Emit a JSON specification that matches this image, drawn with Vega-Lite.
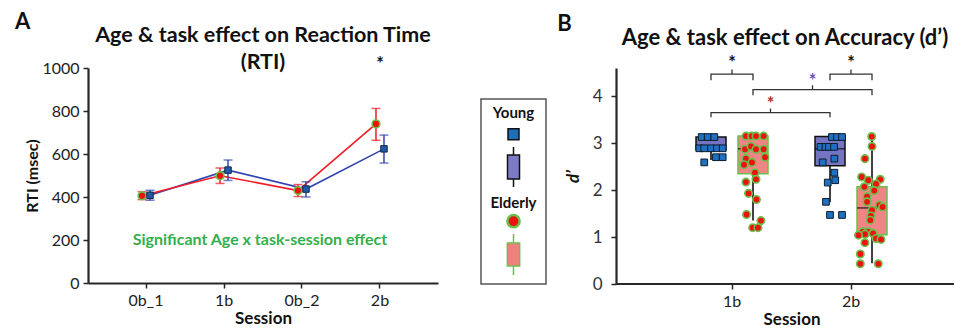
{
  "$schema": "https://vega.github.io/schema/vega-lite/v6.json",
  "padding": {"left": 14, "top": 11, "right": 0, "bottom": 0},
  "background": "white",
  "config": {
    "font": "Lato",
    "view": {"stroke": null},
    "axis": {"grid": false, "domainColor": "#262626", "domainWidth": 2.2, "tickColor": "#262626", "tickWidth": 1.5, "tickSize": 5, "labelFont": "Lato", "labelFontSize": 16, "labelColor": "#222", "titleFont": "Lato", "titleFontSize": 16, "titleFontWeight": "bold", "titleColor": "#111"},
    "title": {"font": "Lato", "fontWeight": "bold", "color": "#111"}
  },
  "datasets": {
    "boxes": [
      {"session": "1b", "group": "Young", "lower": 2.64, "q1": 2.86, "median": 2.93, "q3": 3.13, "upper": 3.13},
      {"session": "1b", "group": "Elderly", "lower": 1.35, "q1": 2.35, "median": 2.88, "q3": 3.15, "upper": 3.15},
      {"session": "2b", "group": "Young", "lower": 1.74, "q1": 2.52, "median": 2.88, "q3": 3.14, "upper": 3.14},
      {"session": "2b", "group": "Elderly", "lower": 0.44, "q1": 1.05, "median": 1.62, "q3": 2.07, "upper": 3.13}
    ]
  },
  "spacing": 10,
  "hconcat": [
    {
      "spacing": 42,
      "hconcat": [
        {
          "title": {"text": "A", "anchor": "start", "fontSize": 22, "offset": -9, "dx": -10},
          "vconcat": [
            {
              "width": 350,
              "height": 215,
              "title": {"text": ["Age & task effect on Reaction Time", "(RTI)"], "fontSize": 21.5, "lineHeight": 27, "anchor": "middle", "frame": "group", "offset": -18},
              "data": {"values": [
                {"session": "0b_1", "group": "Young", "rt": 408, "lo": 385, "hi": 431},
                {"session": "0b_1", "group": "Elderly", "rt": 406, "lo": 388, "hi": 425},
                {"session": "1b", "group": "Young", "rt": 525, "lo": 477, "hi": 572},
                {"session": "1b", "group": "Elderly", "rt": 499, "lo": 463, "hi": 535},
                {"session": "0b_2", "group": "Young", "rt": 437, "lo": 400, "hi": 471},
                {"session": "0b_2", "group": "Elderly", "rt": 430, "lo": 402, "hi": 458},
                {"session": "2b", "group": "Young", "rt": 624, "lo": 558, "hi": 688},
                {"session": "2b", "group": "Elderly", "rt": 740, "lo": 664, "hi": 812}
              ]},
              "layer": [
                {
                  "mark": {"type": "line", "strokeWidth": 1.6},
                  "encoding": {
                    "x": {"field": "session", "type": "nominal", "sort": ["0b_1", "1b", "0b_2", "2b"], "scale": {"type": "band", "domain": ["0b_1", "1b", "0b_2", "2b"], "paddingInner": 0, "paddingOuter": 0.244}, "axis": {"title": "Session", "labelAngle": 0, "labelPadding": 4, "titlePadding": 2, "titleFontSize": 17}},
                    "xOffset": {"field": "group", "type": "nominal", "scale": {"type": "point", "domain": ["Elderly", "Young"], "range": [35, 43], "padding": 0}},
                    "y": {"field": "rt", "type": "quantitative", "scale": {"domain": [0, 1000], "nice": false}, "axis": {"title": "RTI (msec)", "format": "d", "values": [0, 200, 400, 600, 800, 1000], "labelPadding": 4, "titlePadding": 1}},
                    "color": {"field": "group", "type": "nominal", "scale": {"domain": ["Young", "Elderly"], "range": ["#3346b0", "#ee1c25"]}, "legend": null}
                  }
                },
                {
                  "mark": {"type": "rule", "strokeWidth": 1.5},
                  "encoding": {
                    "x": {"field": "session", "type": "nominal"},
                    "xOffset": {"field": "group", "type": "nominal"},
                    "y": {"field": "lo", "type": "quantitative"}, "y2": {"field": "hi"},
                    "color": {"field": "group", "type": "nominal", "legend": null}
                  }
                },
                {
                  "mark": {"type": "tick", "orient": "horizontal", "size": 9, "thickness": 1.5},
                  "encoding": {"x": {"field": "session", "type": "nominal"}, "xOffset": {"field": "group", "type": "nominal"}, "y": {"field": "lo", "type": "quantitative"}, "color": {"field": "group", "type": "nominal", "legend": null}}
                },
                {
                  "mark": {"type": "tick", "orient": "horizontal", "size": 9, "thickness": 1.5},
                  "encoding": {"x": {"field": "session", "type": "nominal"}, "xOffset": {"field": "group", "type": "nominal"}, "y": {"field": "hi", "type": "quantitative"}, "color": {"field": "group", "type": "nominal", "legend": null}}
                },
                {
                  "transform": [{"filter": "datum.group == 'Elderly'"}],
                  "mark": {"type": "point", "shape": "circle", "filled": true, "size": 60, "fill": "#ee1111", "stroke": "#6cbf4a", "strokeWidth": 1.6, "opacity": 1},
                  "encoding": {"x": {"field": "session", "type": "nominal"}, "xOffset": {"field": "group", "type": "nominal"}, "y": {"field": "rt", "type": "quantitative"}}
                },
                {
                  "transform": [{"filter": "datum.group == 'Young'"}],
                  "mark": {"type": "point", "shape": "square", "filled": true, "size": 42, "fill": "#1f5aa8", "stroke": "#122848", "strokeWidth": 1, "opacity": 1},
                  "encoding": {"x": {"field": "session", "type": "nominal"}, "xOffset": {"field": "group", "type": "nominal"}, "y": {"field": "rt", "type": "quantitative"}}
                },
                {
                  "data": {"values": [{"label": "*"}]},
                  "mark": {"type": "text", "fontSize": 18, "fontWeight": "bold", "color": "#111", "baseline": "middle"},
                  "encoding": {"x": {"datum": "2b", "type": "nominal"}, "y": {"datum": 1015, "type": "quantitative"}, "text": {"field": "label"}}
                },
                {
                  "data": {"values": [{"label": "Significant Age x task-session effect"}]},
                  "mark": {"type": "text", "fontSize": 16, "fontWeight": "bold", "color": "#33b04a", "baseline": "middle", "dx": -3},
                  "encoding": {"y": {"datum": 200, "type": "quantitative"}, "text": {"field": "label"}}
                }
              ]
            }
          ]
        },
        {
          "spacing": 0,
          "vconcat": [
            {
              "width": 65,
              "height": 30,
              "data": {"values": [{}]},
              "mark": {"type": "point", "opacity": 0}
            },
            {
              "width": 65,
              "height": 185,
              "view": {"stroke": "#555", "strokeWidth": 1.5},
              "encoding": {
                "y": {"field": "slot", "type": "nominal", "sort": null, "scale": {"type": "point", "domain": ["Young", "ysym", "ybox", "Elderly", "esym", "ebox"], "range": [14, 155.5], "padding": 0}, "axis": null}
              },
              "layer": [
                {"data": {"values": [{"slot": "Young", "label": "Young"}]}, "mark": {"type": "text", "fontSize": 15, "fontWeight": "bold", "color": "#111", "baseline": "middle"}, "encoding": {"text": {"field": "label"}}},
                {"data": {"values": [{"slot": "Elderly", "label": "Elderly"}]}, "mark": {"type": "text", "fontSize": 15, "fontWeight": "bold", "color": "#111", "baseline": "middle", "dy": 5}, "encoding": {"text": {"field": "label"}}},
                {"data": {"values": [{"slot": "ysym"}]}, "mark": {"type": "point", "shape": "square", "filled": true, "size": 121, "fill": "#1f6fb8", "stroke": "#111", "strokeWidth": 1.5, "opacity": 1, "yOffset": -7}},
                {"data": {"values": [{"slot": "ybox"}]}, "mark": {"type": "point", "shape": "M-0.3,-0.6H0.3V0.6H-0.3ZM0,-0.6V-1M0,0.6V1", "filled": true, "size": 1600, "fill": "#7b7bc8", "stroke": "#111", "strokeWidth": 1.5, "opacity": 1, "yOffset": -2.6}},
                {"data": {"values": [{"slot": "esym"}]}, "mark": {"type": "point", "shape": "circle", "filled": true, "size": 150, "fill": "#ee1111", "stroke": "#6cbf4a", "strokeWidth": 2.5, "opacity": 1, "yOffset": -5}},
                {"data": {"values": [{"slot": "ebox"}]}, "mark": {"type": "point", "shape": "M-0.3,-0.56H0.3V0.56H-0.3ZM0,-0.56V-1M0,0.56V1", "filled": true, "size": 1681, "fill": "#f08080", "stroke": "#6cbf4a", "strokeWidth": 1.5, "opacity": 1}}
              ]
            }
          ]
        }
      ]
    },
    {
      "title": {"text": "B", "anchor": "start", "fontSize": 22, "offset": -9, "dx": -7},
      "vconcat": [
        {
          "width": 338,
          "height": 216,
          "title": {"text": "Age & task effect on Accuracy (d’)", "fontSize": 22, "anchor": "middle", "frame": "group", "offset": 5},
          "resolve": {"scale": {"xOffset": "independent"}},
          "layer": [
            {
              "data": {"values": [{}]},
              "mark": {"type": "rule", "color": "#262626", "strokeWidth": 2.2},
              "encoding": {"y": {"datum": 0, "type": "quantitative"}}
            },
            {
              "data": {"name": "boxes"},
              "mark": {"type": "rule", "color": "#111", "strokeWidth": 1.6},
              "encoding": {
                "x": {"field": "session", "type": "nominal", "scale": {"type": "band", "domain": ["1b", "1b–2b", "2b"], "paddingInner": 0, "paddingOuter": 0, "range": [86.25, 264.75]}, "axis": {"title": "Session", "values": ["1b", "2b"], "domain": false, "labelAngle": 0, "labelPadding": 4, "titlePadding": 2, "titleFontSize": 17}},
                "xOffset": {"field": "group", "type": "nominal", "scale": {"type": "point", "domain": ["Young", "between", "Elderly"], "range": [8.75, 50.75], "padding": 0}},
                "y": {"field": "lower", "type": "quantitative", "scale": {"domain": [0, 4.6], "nice": false}, "axis": {"title": "d’", "titleFontStyle": "italic", "titleFontSize": 17, "values": [0, 1, 2, 3, 4], "labelFontSize": 17, "labelColor": "#333", "labelPadding": 9, "titlePadding": 10}},
                "y2": {"field": "upper"}
              }
            },
            {
              "data": {"name": "boxes"},
              "transform": [{"filter": "datum.group == 'Young'"}],
              "mark": {"type": "bar", "width": 30, "fill": "#7474c0", "stroke": "#111", "strokeWidth": 1.5},
              "encoding": {
                "x": {"field": "session", "type": "nominal"},
                "xOffset": {"field": "group", "type": "nominal", "scale": {"type": "point", "domain": ["Young", "between", "Elderly"], "range": [8.75, 50.75], "padding": 0}},
                "y": {"field": "q1", "type": "quantitative"}, "y2": {"field": "q3"}
              }
            },
            {
              "data": {"name": "boxes"},
              "transform": [{"filter": "datum.group == 'Elderly'"}],
              "mark": {"type": "bar", "width": 30, "fill": "#f08585", "stroke": "#6cbf4a", "strokeWidth": 1.5},
              "encoding": {
                "x": {"field": "session", "type": "nominal"},
                "xOffset": {"field": "group", "type": "nominal", "scale": {"type": "point", "domain": ["Young", "between", "Elderly"], "range": [8.75, 50.75], "padding": 0}},
                "y": {"field": "q1", "type": "quantitative"}, "y2": {"field": "q3"}
              }
            },
            {
              "data": {"name": "boxes"},
              "mark": {"type": "tick", "orient": "horizontal", "size": 30, "thickness": 1.6, "color": "#111"},
              "encoding": {
                "x": {"field": "session", "type": "nominal"},
                "xOffset": {"field": "group", "type": "nominal", "scale": {"type": "point", "domain": ["Young", "between", "Elderly"], "range": [8.75, 50.75], "padding": 0}},
                "y": {"field": "median", "type": "quantitative"}
              }
            },
            {
              "data": {"values": [
                {"session": "1b", "group": "Young", "d": 3.13, "jitter": -0.62}, {"session": "1b", "group": "Young", "d": 3.13, "jitter": -0.22}, {"session": "1b", "group": "Young", "d": 3.13, "jitter": 0.22},
                {"session": "1b", "group": "Young", "d": 2.89, "jitter": -0.78}, {"session": "1b", "group": "Young", "d": 2.89, "jitter": -0.45}, {"session": "1b", "group": "Young", "d": 2.89, "jitter": 0}, {"session": "1b", "group": "Young", "d": 2.89, "jitter": 0.4}, {"session": "1b", "group": "Young", "d": 2.89, "jitter": 0.78},
                {"session": "1b", "group": "Young", "d": 2.7, "jitter": 0.33}, {"session": "1b", "group": "Young", "d": 2.7, "jitter": 0.78}, {"session": "1b", "group": "Young", "d": 2.59, "jitter": -0.45},
                {"session": "2b", "group": "Young", "d": 3.13, "jitter": 0.13}, {"session": "2b", "group": "Young", "d": 3.13, "jitter": 0.47}, {"session": "2b", "group": "Young", "d": 3.13, "jitter": 0.8},
                {"session": "2b", "group": "Young", "d": 2.92, "jitter": -0.63}, {"session": "2b", "group": "Young", "d": 2.92, "jitter": -0.3}, {"session": "2b", "group": "Young", "d": 2.92, "jitter": -0.07}, {"session": "2b", "group": "Young", "d": 2.92, "jitter": 0.27},
                {"session": "2b", "group": "Young", "d": 2.67, "jitter": 0.29}, {"session": "2b", "group": "Young", "d": 2.59, "jitter": -0.49}, {"session": "2b", "group": "Young", "d": 2.37, "jitter": 0.29},
                {"session": "2b", "group": "Young", "d": 2.16, "jitter": -0.15}, {"session": "2b", "group": "Young", "d": 2.21, "jitter": 0.35}, {"session": "2b", "group": "Young", "d": 1.75, "jitter": -0.27},
                {"session": "2b", "group": "Young", "d": 1.47, "jitter": 0}, {"session": "2b", "group": "Young", "d": 1.47, "jitter": 0.8}
              ]},
              "mark": {"type": "point", "shape": "square", "filled": true, "size": 45, "fill": "#1f70c0", "stroke": "#0d1b2a", "strokeWidth": 1, "opacity": 1},
              "encoding": {
                "x": {"field": "session", "type": "nominal"},
                "xOffset": {"field": "jitter", "type": "quantitative", "scale": {"domain": [-1, 1], "range": [-6.25, 23.75]}},
                "y": {"field": "d", "type": "quantitative"}
              }
            },
            {
              "data": {"values": [
                {"session": "1b", "group": "Elderly", "d": 3.15, "jitter": -0.47}, {"session": "1b", "group": "Elderly", "d": 3.15, "jitter": -0.09}, {"session": "1b", "group": "Elderly", "d": 3.15, "jitter": 0.2}, {"session": "1b", "group": "Elderly", "d": 3.15, "jitter": 0.71},
                {"session": "1b", "group": "Elderly", "d": 2.87, "jitter": -0.53}, {"session": "1b", "group": "Elderly", "d": 2.93, "jitter": -0.13}, {"session": "1b", "group": "Elderly", "d": 2.87, "jitter": 0.2}, {"session": "1b", "group": "Elderly", "d": 2.87, "jitter": 0.71},
                {"session": "1b", "group": "Elderly", "d": 2.7, "jitter": 0.8}, {"session": "1b", "group": "Elderly", "d": 2.67, "jitter": -0.47}, {"session": "1b", "group": "Elderly", "d": 2.54, "jitter": -0.6}, {"session": "1b", "group": "Elderly", "d": 2.59, "jitter": -0.07},
                {"session": "1b", "group": "Elderly", "d": 2.37, "jitter": 0.13}, {"session": "1b", "group": "Elderly", "d": 2.17, "jitter": -0.47}, {"session": "1b", "group": "Elderly", "d": 2.23, "jitter": 0.2},
                {"session": "1b", "group": "Elderly", "d": 1.93, "jitter": -0.3}, {"session": "1b", "group": "Elderly", "d": 1.8, "jitter": 0.23}, {"session": "1b", "group": "Elderly", "d": 1.48, "jitter": -0.43},
                {"session": "1b", "group": "Elderly", "d": 1.35, "jitter": 0.53}, {"session": "1b", "group": "Elderly", "d": 1.2, "jitter": -0.02}, {"session": "1b", "group": "Elderly", "d": 1.2, "jitter": 0.33},
                {"session": "2b", "group": "Elderly", "d": 3.14, "jitter": -0.02}, {"session": "2b", "group": "Elderly", "d": 2.93, "jitter": 0}, {"session": "2b", "group": "Elderly", "d": 2.67, "jitter": -0.47},
                {"session": "2b", "group": "Elderly", "d": 2.28, "jitter": -0.69}, {"session": "2b", "group": "Elderly", "d": 2.21, "jitter": -0.25}, {"session": "2b", "group": "Elderly", "d": 2.23, "jitter": 0.55}, {"session": "2b", "group": "Elderly", "d": 2.13, "jitter": 0.27},
                {"session": "2b", "group": "Elderly", "d": 2.07, "jitter": -0.51}, {"session": "2b", "group": "Elderly", "d": 1.99, "jitter": 0.15}, {"session": "2b", "group": "Elderly", "d": 1.86, "jitter": -0.33}, {"session": "2b", "group": "Elderly", "d": 1.75, "jitter": -0.33},
                {"session": "2b", "group": "Elderly", "d": 1.57, "jitter": 0}, {"session": "2b", "group": "Elderly", "d": 1.68, "jitter": 0.49}, {"session": "2b", "group": "Elderly", "d": 1.64, "jitter": 0.71},
                {"session": "2b", "group": "Elderly", "d": 1.45, "jitter": -0.07}, {"session": "2b", "group": "Elderly", "d": 1.36, "jitter": -0.11},
                {"session": "2b", "group": "Elderly", "d": 1.11, "jitter": -0.62}, {"session": "2b", "group": "Elderly", "d": 1.11, "jitter": -0.25}, {"session": "2b", "group": "Elderly", "d": 1.06, "jitter": -0.47}, {"session": "2b", "group": "Elderly", "d": 1.08, "jitter": 0.07}, {"session": "2b", "group": "Elderly", "d": 1.04, "jitter": -0.9},
                {"session": "2b", "group": "Elderly", "d": 0.97, "jitter": 0.27}, {"session": "2b", "group": "Elderly", "d": 0.95, "jitter": 0.6}, {"session": "2b", "group": "Elderly", "d": 0.88, "jitter": -0.47},
                {"session": "2b", "group": "Elderly", "d": 0.64, "jitter": -0.78}, {"session": "2b", "group": "Elderly", "d": 0.43, "jitter": -0.78}, {"session": "2b", "group": "Elderly", "d": 0.43, "jitter": 0.42}
              ]},
              "mark": {"type": "point", "shape": "circle", "filled": true, "size": 55, "fill": "#ee1111", "stroke": "#6cbf4a", "strokeWidth": 1.6, "opacity": 1},
              "encoding": {
                "x": {"field": "session", "type": "nominal"},
                "xOffset": {"field": "jitter", "type": "quantitative", "scale": {"domain": [-1, 1], "range": [35.75, 65.75]}},
                "y": {"field": "d", "type": "quantitative"}
              }
            },
            {
              "data": {"values": [
                {"bracket": "b1", "k": 1, "session": "1b", "group": "Young", "d": 4.34}, {"bracket": "b1", "k": 2, "session": "1b", "group": "Young", "d": 4.47}, {"bracket": "b1", "k": 3, "session": "1b", "group": "between", "d": 4.47}, {"bracket": "b1", "k": 4, "session": "1b", "group": "between", "d": 4.57}, {"bracket": "b1", "k": 5, "session": "1b", "group": "between", "d": 4.47}, {"bracket": "b1", "k": 6, "session": "1b", "group": "Elderly", "d": 4.47}, {"bracket": "b1", "k": 7, "session": "1b", "group": "Elderly", "d": 4.34},
                {"bracket": "b2", "k": 1, "session": "2b", "group": "Young", "d": 4.34}, {"bracket": "b2", "k": 2, "session": "2b", "group": "Young", "d": 4.47}, {"bracket": "b2", "k": 3, "session": "2b", "group": "between", "d": 4.47}, {"bracket": "b2", "k": 4, "session": "2b", "group": "between", "d": 4.57}, {"bracket": "b2", "k": 5, "session": "2b", "group": "between", "d": 4.47}, {"bracket": "b2", "k": 6, "session": "2b", "group": "Elderly", "d": 4.47}, {"bracket": "b2", "k": 7, "session": "2b", "group": "Elderly", "d": 4.34},
                {"bracket": "b3", "k": 1, "session": "1b", "group": "Elderly", "d": 4.02}, {"bracket": "b3", "k": 2, "session": "1b", "group": "Elderly", "d": 4.14}, {"bracket": "b3", "k": 3, "session": "1b–2b", "group": "Elderly", "d": 4.14}, {"bracket": "b3", "k": 4, "session": "1b–2b", "group": "Elderly", "d": 4.23}, {"bracket": "b3", "k": 5, "session": "1b–2b", "group": "Elderly", "d": 4.14}, {"bracket": "b3", "k": 6, "session": "2b", "group": "Elderly", "d": 4.14}, {"bracket": "b3", "k": 7, "session": "2b", "group": "Elderly", "d": 4.02},
                {"bracket": "b4", "k": 1, "session": "1b", "group": "Young", "d": 3.55}, {"bracket": "b4", "k": 2, "session": "1b", "group": "Young", "d": 3.65}, {"bracket": "b4", "k": 3, "session": "1b–2b", "group": "Young", "d": 3.65}, {"bracket": "b4", "k": 4, "session": "1b–2b", "group": "Young", "d": 3.74}, {"bracket": "b4", "k": 5, "session": "1b–2b", "group": "Young", "d": 3.65}, {"bracket": "b4", "k": 6, "session": "2b", "group": "Young", "d": 3.65}, {"bracket": "b4", "k": 7, "session": "2b", "group": "Young", "d": 3.55}
              ]},
              "mark": {"type": "line", "color": "#333", "strokeWidth": 1.3},
              "encoding": {
                "x": {"field": "session", "type": "nominal"},
                "xOffset": {"field": "group", "type": "nominal", "scale": {"type": "point", "domain": ["Young", "between", "Elderly"], "range": [8.75, 50.75], "padding": 0}},
                "y": {"field": "d", "type": "quantitative"},
                "detail": {"field": "bracket"},
                "order": {"field": "k"}
              }
            },
            {
              "data": {"values": [{"session": "1b", "group": "between", "d": 4.68}, {"session": "2b", "group": "between", "d": 4.68}]},
              "mark": {"type": "text", "text": "*", "fontSize": 18, "fontWeight": "bold", "baseline": "middle", "color": "#111"},
              "encoding": {"x": {"field": "session", "type": "nominal"}, "xOffset": {"field": "group", "type": "nominal", "scale": {"type": "point", "domain": ["Young", "between", "Elderly"], "range": [8.75, 50.75], "padding": 0}}, "y": {"field": "d", "type": "quantitative"}}
            },
            {
              "data": {"values": [{"session": "1b–2b", "group": "Elderly", "d": 4.3}]},
              "mark": {"type": "text", "text": "*", "fontSize": 18, "fontWeight": "bold", "baseline": "middle", "color": "#5a5aa8"},
              "encoding": {"x": {"field": "session", "type": "nominal"}, "xOffset": {"field": "group", "type": "nominal", "scale": {"type": "point", "domain": ["Young", "between", "Elderly"], "range": [8.75, 50.75], "padding": 0}}, "y": {"field": "d", "type": "quantitative"}}
            },
            {
              "data": {"values": [{"session": "1b–2b", "group": "Young", "d": 3.82}]},
              "mark": {"type": "text", "text": "*", "fontSize": 18, "fontWeight": "bold", "baseline": "middle", "color": "#a83232"},
              "encoding": {"x": {"field": "session", "type": "nominal"}, "xOffset": {"field": "group", "type": "nominal", "scale": {"type": "point", "domain": ["Young", "between", "Elderly"], "range": [8.75, 50.75], "padding": 0}}, "y": {"field": "d", "type": "quantitative"}}
            }
          ]
        }
      ]
    }
  ]
}
